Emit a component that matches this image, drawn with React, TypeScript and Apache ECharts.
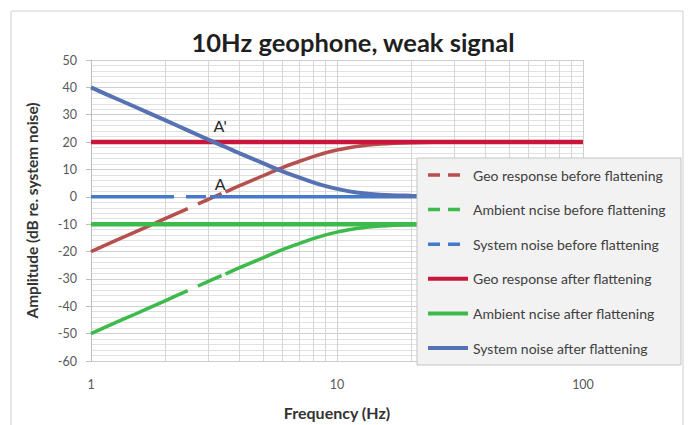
import React, { useEffect, useRef } from "react";
import * as echarts from "echarts";

// ---- data ----
const freqs = [1, 1.25, 1.5, 2, 2.5, 3, 3.5, 4, 5, 6, 7, 8, 9, 10, 12, 15, 20, 30, 50, 100];
const geoBefore = [-20, -16.1, -13, -8, -4.1, -0.9, 1.7, 4, 7.7, 10.7, 12.9, 14.7, 16.1, 17.1, 18.4, 19.3, 19.8, 20, 20, 20];
const ambientBefore = [-50, -46.1, -43, -38, -34.1, -30.9, -28.3, -26, -22.3, -19.3, -17.1, -15.3, -13.9, -12.9, -11.6, -10.7, -10.2, -10, -10, -10];
const systemAfter = [40, 36.1, 33, 28, 24.1, 20.9, 18.3, 16, 12.3, 9.3, 7.1, 5.3, 3.9, 2.9, 1.6, 0.8, 0.4, 0.1, 0, 0];

const flatFreqs = [1, 100];
const systemBefore = [0, 0];
const geoAfter = [20, 20];
const ambientAfter = [-10, -10];

const seriesNames = [
  "Geo response before flattening",
  "Ambient ncise before flattening",
  "System noise before flattening",
  "Geo response after flattening",
  "Ambient ncise after flattening",
  "System noise after flattening",
];

const minorFreqs = [2, 3, 4, 5, 6, 7, 8, 9, 20, 30, 40, 50, 60, 70, 80, 90];

const annotationLabels = ["A'", "A"];
const annotationFreqs = [3.35, 3.35];
const annotationAmps = [26, 5];

const yMin = -60;
const yMax = 50;
const yInterval = 10;

const FONT = "Lato, 'Open Sans', sans-serif";

function pairs(xs: number[], ys: number[]) {
  return xs.map((x, i) => [x, ys[i]]);
}

export default function App() {
  const ref = useRef<HTMLDivElement>(null);

  useEffect(() => {
    if (!ref.current) return;
    const chart = echarts.init(ref.current, undefined, { renderer: "svg" });

    const colors = ["#b5504e", "#3cba4c", "#4679c8", "#c9163a", "#3cba4c", "#5672b3"];
    const dashFlat = [83, 12, 20, 4, 3000, 0];
    const dashSlope = [106, 11, 26, 4, 3000, 0];
    const legendDash = [12, 8, 12, 100];

    const option: any = {
      animation: false,
      title: {
        text: "10Hz geophone, weak signal",
        left: 348,
        textAlign: "center",
        top: 24,
        textStyle: { fontFamily: FONT, fontSize: 25.5, fontWeight: "bold", color: "#1f1f1f" },
      },
      grid: { left: 91, right: 108, top: 60, bottom: 60 },
      xAxis: {
        type: "log",
        logBase: 10,
        min: 1,
        max: 100,
        name: "Frequency (Hz)",
        nameLocation: "middle",
        nameGap: 43,
        nameTextStyle: { fontFamily: FONT, fontSize: 16, fontWeight: "bold", color: "#333" },
        axisLine: { show: true, lineStyle: { color: "#bfbfbf", width: 1 } },
        axisTick: { show: true, length: 5, lineStyle: { color: "#bfbfbf" } },
        axisLabel: { fontFamily: FONT, fontSize: 12.5, color: "#595959", margin: 17 },
        splitLine: { show: true, lineStyle: { color: "#cfcfcf", width: 1 } },
        minorTick: { show: false },
      },
      yAxis: {
        type: "value",
        min: yMin,
        max: yMax,
        interval: yInterval,
        name: "Amplitude (dB re. system noise)",
        nameLocation: "middle",
        nameGap: 51,
        nameTextStyle: { fontFamily: FONT, fontSize: 15.5, fontWeight: "bold", color: "#333" },
        axisLine: { show: true, lineStyle: { color: "#bfbfbf", width: 1 } },
        axisTick: { show: true, length: 5, lineStyle: { color: "#bfbfbf" } },
        axisLabel: { fontFamily: FONT, fontSize: 12.5, color: "#595959", margin: 14 },
        splitLine: { show: true, lineStyle: { color: "#cfcfcf", width: 1 } },
        minorTick: { show: false, splitNumber: 5 },
        minorSplitLine: { show: true, lineStyle: { color: "#e1e1e1", width: 1 } },
      },
      legend: {
        orient: "vertical",
        left: 426,
        top: 168,
        padding: 0,
        itemWidth: 40,
        itemHeight: 14,
        itemGap: 20.6,
        selectedMode: false,
        z: 6,
        itemStyle: { opacity: 0 },
        textStyle: { fontFamily: FONT, fontSize: 14, color: "#404040" },
        data: seriesNames.map((n, i) => ({
          name: n,
          itemStyle: { opacity: 0 },
          lineStyle: i < 3 ? { type: legendDash, width: 3.5 } : { type: "solid", width: 4 },
        })),
      },
      graphic: [
        {
          type: "rect",
          z: 0,
          silent: true,
          shape: { x: 11, y: 11, width: 672, height: 430 },
          style: { fill: "none", stroke: "#cfcfcf", lineWidth: 1 },
        },
        {
          type: "rect",
          z: 5,
          silent: true,
          shape: { x: 417, y: 158, width: 264, height: 207 },
          style: { fill: "#f2f2f2", stroke: "#c4c4c4", lineWidth: 1 },
        },
      ],
      series: [
        {
          name: seriesNames[0],
          type: "line",
          data: pairs(freqs, geoBefore),
          symbol: "none",
          smooth: 0.4,
          z: 2,
          silent: true,
          lineStyle: { color: colors[0], width: 3.5, type: dashSlope },
          itemStyle: { color: colors[0] },
          markLine: {
            silent: true,
            z: 1,
            symbol: "none",
            label: { show: false },
            animation: false,
            lineStyle: { color: "#d6d6d6", width: 1, type: "solid" },
            emphasis: { disabled: true },
            data: minorFreqs.map((f) => ({ xAxis: f })),
          },
        },
        {
          name: seriesNames[1],
          type: "line",
          data: pairs(freqs, ambientBefore),
          symbol: "none",
          smooth: 0.4,
          z: 2,
          silent: true,
          lineStyle: { color: colors[1], width: 3.5, type: dashSlope },
          itemStyle: { color: colors[1] },
        },
        {
          name: seriesNames[2],
          type: "line",
          data: pairs(flatFreqs, systemBefore),
          symbol: "none",
          z: 2,
          silent: true,
          lineStyle: { color: colors[2], width: 3.5, type: dashFlat },
          itemStyle: { color: colors[2] },
        },
        {
          name: seriesNames[3],
          type: "line",
          data: pairs(flatFreqs, geoAfter),
          symbol: "none",
          z: 2,
          silent: true,
          lineStyle: { color: colors[3], width: 4.5, type: "solid" },
          itemStyle: { color: colors[3] },
          markPoint: {
            silent: true,
            symbol: "circle",
            symbolSize: 1,
            itemStyle: { color: "transparent" },
            label: {
              show: true,
              position: "inside",
              fontFamily: FONT,
              fontSize: 16,
              color: "#262626",
              formatter: (p: any) => p.name,
            },
            data: annotationLabels.map((t, i) => ({
              name: t,
              coord: [annotationFreqs[i], annotationAmps[i]],
            })),
          },
        },
        {
          name: seriesNames[4],
          type: "line",
          data: pairs(flatFreqs, ambientAfter),
          symbol: "none",
          z: 2,
          silent: true,
          lineStyle: { color: colors[4], width: 4.5, type: "solid" },
          itemStyle: { color: colors[4] },
        },
        {
          name: seriesNames[5],
          type: "line",
          data: pairs(freqs, systemAfter),
          symbol: "none",
          smooth: 0.4,
          z: 2,
          silent: true,
          lineStyle: { color: colors[5], width: 4, type: "solid" },
          itemStyle: { color: colors[5] },
        },
      ],
    };

    chart.setOption(option);
    return () => chart.dispose();
  }, []);

  return (
    <div
      ref={ref}
      style={{ position: "fixed", left: 0, top: 0, width: 691, height: 425, background: "#fff" }}
    />
  );
}
